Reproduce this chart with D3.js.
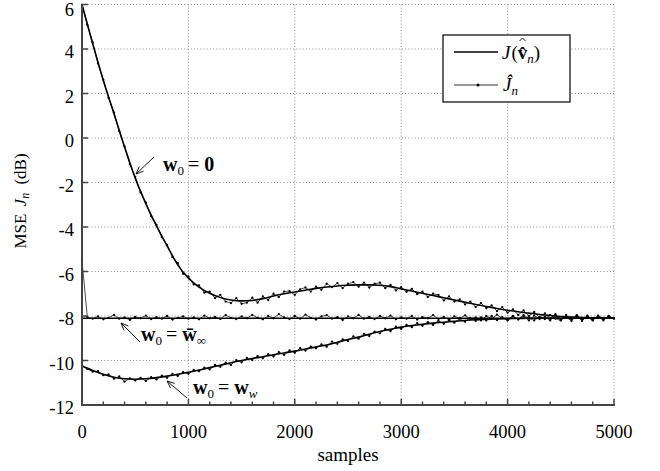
<!DOCTYPE html>
<html><head><meta charset="utf-8">
<script src="https://cdn.jsdelivr.net/npm/d3@7"></script>
<style>
html,body{margin:0;padding:0;background:#fff;}
svg{display:block;}
text{font-family:"Liberation Serif","Times New Roman",serif;fill:#000;}
</style></head>
<body><svg id="c" width="660" height="471"></svg>
<script>
// ---- data ----
const thSamples = [0,100,200,300,400,500,600,700,800,900,1000,1100,1200,1300,1400,1500,1600,1700,1800,1900,2000,2100,2200,2300,2400,2500,2600,2700,2800,2900,3000,3100,3200,3300,3400,3500,3600,3700,3800,3900,4000,4100,4200,4300,4400,4500,4600,4700,4800,4900,5000];
const theoryZero = [6.0,4.25,2.6,1.1,-0.4,-1.8,-2.95,-3.95,-4.85,-5.7,-6.3,-6.7,-6.98,-7.17,-7.28,-7.32,-7.3,-7.22,-7.1,-7.0,-6.92,-6.84,-6.76,-6.7,-6.65,-6.62,-6.6,-6.6,-6.62,-6.68,-6.78,-6.88,-6.98,-7.08,-7.18,-7.28,-7.38,-7.48,-7.57,-7.66,-7.74,-7.81,-7.87,-7.93,-7.98,-8.02,-8.05,-8.07,-8.08,-8.09,-8.1];
const theoryInf = [-8.1,-8.1,-8.1,-8.1,-8.1,-8.1,-8.1,-8.1,-8.1,-8.1,-8.1,-8.1,-8.1,-8.1,-8.1,-8.1,-8.1,-8.1,-8.1,-8.1,-8.1,-8.1,-8.1,-8.1,-8.1,-8.1,-8.1,-8.1,-8.1,-8.1,-8.1,-8.1,-8.1,-8.1,-8.1,-8.1,-8.1,-8.1,-8.1,-8.1,-8.1,-8.1,-8.1,-8.1,-8.1,-8.1,-8.1,-8.1,-8.1,-8.1,-8.1];
const theoryW = [-10.25,-10.45,-10.62,-10.75,-10.82,-10.84,-10.82,-10.77,-10.7,-10.62,-10.53,-10.43,-10.32,-10.21,-10.1,-10.0,-9.91,-9.83,-9.74,-9.66,-9.58,-9.48,-9.39,-9.3,-9.18,-9.06,-8.95,-8.82,-8.7,-8.6,-8.5,-8.43,-8.37,-8.32,-8.28,-8.24,-8.2,-8.17,-8.15,-8.13,-8.12,-8.11,-8.1,-8.1,-8.1,-8.1,-8.1,-8.1,-8.1,-8.1,-8.1];

const estSamples = [0,50,100,150,200,250,300,350,400,450,500,550,600,650,700,750,800,850,900,950,1000,1050,1100,1150,1200,1250,1300,1350,1400,1450,1500,1550,1600,1650,1700,1750,1800,1850,1900,1950,2000,2050,2100,2150,2200,2250,2300,2350,2400,2450,2500,2550,2600,2650,2700,2750,2800,2850,2900,2950,3000,3050,3100,3150,3200,3250,3300,3350,3400,3450,3500,3550,3600,3650,3700,3750,3800,3850,3900,3950,4000,4050,4100,4150,4200,4250,4300,4350,4400,4450,4500,4550,4600,4650,4700,4750,4800,4850,4900,4950,5000];
const estZero = [5.98,5.08,4.3,3.35,2.62,1.8,1.15,0.3,-0.38,-1.18,-1.75,-2.45,-2.9,-3.52,-3.9,-4.46,-4.8,-5.35,-5.62,-6.1,-6.22,-6.58,-6.62,-6.95,-6.9,-7.2,-7.05,-7.35,-7.42,-7.2,-7.45,-7.4,-7.18,-7.4,-7.12,-7.28,-7.0,-7.15,-6.9,-6.88,-7.05,-6.8,-6.72,-6.9,-6.68,-6.82,-6.55,-6.7,-6.52,-6.75,-6.55,-6.48,-6.68,-6.5,-6.72,-6.55,-6.5,-6.75,-6.6,-6.85,-6.7,-6.92,-6.78,-7.02,-6.9,-7.15,-7.0,-7.05,-7.3,-7.12,-7.35,-7.25,-7.48,-7.35,-7.6,-7.42,-7.65,-7.52,-7.78,-7.6,-7.85,-7.7,-7.95,-7.75,-8.0,-7.82,-8.08,-7.88,-8.12,-7.92,-8.18,-7.95,-8.15,-8.0,-8.22,-7.98,-8.16,-8.02,-8.2,-8.0,-8.12];
const estInf = [-5.5,-8.05,-8.12,-8.02,-8.15,-8.08,-7.95,-8.12,-8.06,-8.18,-8.04,-8.1,-7.98,-8.14,-8.05,-8.12,-8.0,-8.16,-8.08,-8.02,-8.12,-8.06,-8.15,-7.98,-8.1,-8.04,-8.13,-7.96,-8.08,-8.14,-8.02,-8.1,-7.95,-8.08,-8.15,-8.0,-8.1,-7.92,-8.06,-8.14,-8.0,-8.12,-7.94,-8.08,-8.16,-8.02,-7.96,-8.12,-8.05,-8.18,-8.02,-8.1,-7.95,-8.12,-8.04,-8.14,-8.0,-8.1,-7.98,-8.15,-8.06,-8.12,-8.0,-8.16,-8.05,-8.1,-7.96,-8.14,-8.04,-8.18,-8.02,-8.1,-7.97,-8.14,-8.06,-8.2,-8.0,-8.12,-7.94,-8.1,-8.18,-8.02,-8.14,-7.96,-8.1,-8.2,-8.04,-8.14,-7.95,-8.12,-8.2,-8.02,-8.14,-7.98,-8.16,-8.05,-8.18,-7.98,-8.12,-8.04,-8.1];
const estW = [-10.2,-10.38,-10.5,-10.48,-10.66,-10.62,-10.82,-10.72,-10.95,-10.8,-10.9,-10.78,-10.92,-10.75,-10.85,-10.68,-10.78,-10.6,-10.7,-10.52,-10.6,-10.42,-10.48,-10.32,-10.4,-10.2,-10.28,-10.1,-10.2,-9.98,-10.08,-9.88,-9.98,-9.8,-9.9,-9.72,-9.82,-9.62,-9.75,-9.55,-9.65,-9.45,-9.55,-9.38,-9.45,-9.28,-9.38,-9.15,-9.25,-9.05,-9.12,-8.92,-9.02,-8.8,-8.9,-8.7,-8.78,-8.58,-8.68,-8.48,-8.58,-8.4,-8.5,-8.32,-8.44,-8.28,-8.4,-8.22,-8.35,-8.18,-8.3,-8.12,-8.26,-8.08,-8.22,-8.06,-8.2,-8.0,-8.18,-8.05,-8.2,-8.0,-8.16,-8.02,-8.2,-7.98,-8.14,-8.04,-8.2,-7.98,-8.16,-8.05,-8.22,-7.96,-8.14,-8.02,-8.2,-8.0,-8.15,-8.03,-8.1];

const xTicks = [0,1000,2000,3000,4000,5000];
const xMinor = [200,400,600,800,1200,1400,1600,1800,2200,2400,2600,2800,3200,3400,3600,3800,4200,4400,4600,4800];
const yTicks = [-12,-10,-8,-6,-4,-2,0,2,4,6];

// ---- scales ----
const svg = d3.select("#c");
const x = d3.scaleLinear().domain([0,5000]).range([82,614]);
const y = d3.scaleLinear().domain([-12,6]).range([405,4.5]);

// grid
const grid = svg.append("g").attr("stroke","#8a8a8a").attr("stroke-width",1).attr("stroke-dasharray","1,2.2");
grid.selectAll("line.v").data(xTicks.slice(1)).join("line")
  .attr("x1",d=>x(d)).attr("x2",d=>x(d)).attr("y1",y(6)).attr("y2",y(-12));
grid.selectAll("line.h").data(yTicks.slice(1)).join("line")
  .attr("x1",x(0)).attr("x2",x(5000)).attr("y1",d=>y(d)).attr("y2",d=>y(d));

// curves
const lineEst = (arr)=>d3.line().x((d,i)=>x(estSamples[i])).y(d=>y(d))(arr);
const lineTh = (arr)=>d3.line().curve(d3.curveMonotoneX).x((d,i)=>x(thSamples[i])).y(d=>y(d))(arr);
const plot = svg.append("g");
[estZero,estInf,estW].forEach(arr=>{
  plot.append("path").attr("d",lineEst(arr)).attr("fill","none").attr("stroke","#000").attr("stroke-width",0.7);
  plot.append("g").selectAll("circle").data(arr).join("circle")
    .attr("cx",(d,i)=>x(estSamples[i])).attr("cy",d=>y(d)).attr("r",1.15).attr("fill","#000");
});
[theoryZero,theoryInf,theoryW].forEach(arr=>{
  plot.append("path").attr("d",lineTh(arr)).attr("fill","none").attr("stroke","#000").attr("stroke-width",1.6);
});

// axes (left + bottom)
const ax = svg.append("g").attr("stroke","#444");
ax.append("line").attr("x1",x(0)).attr("x2",x(0)).attr("y1",y(6)).attr("y2",y(-12)+1).attr("stroke-width",2);
ax.append("line").attr("x1",x(0)-1).attr("x2",x(5000)+1).attr("y1",y(-12)).attr("y2",y(-12)).attr("stroke-width",2);
ax.selectAll("line.xt").data(xTicks).join("line").attr("x1",d=>x(d)).attr("x2",d=>x(d)).attr("y1",y(-12)).attr("y2",y(-12)-6).attr("stroke-width",1.5);
ax.selectAll("line.xm").data(xMinor).join("line").attr("x1",d=>x(d)).attr("x2",d=>x(d)).attr("y1",y(-12)).attr("y2",y(-12)-3.5).attr("stroke-width",1.5);
ax.selectAll("line.yt").data(yTicks).join("line").attr("x1",x(0)).attr("x2",x(0)+6).attr("y1",d=>y(d)).attr("y2",d=>y(d)).attr("stroke-width",1.5);

// tick labels
svg.append("g").selectAll("text").data(yTicks).join("text")
  .attr("x",74).attr("y",d=>Math.max(y(d)+9,15.5)).attr("text-anchor","end").attr("font-size",18.5).text(d=>String(d));
svg.append("g").selectAll("text").data(xTicks).join("text")
  .attr("x",d=>x(d)).attr("y",438).attr("text-anchor","middle").attr("font-size",18.5).text(d=>String(d));

// axis titles
svg.append("text").attr("x",348).attr("y",461).attr("text-anchor","middle").attr("font-size",19).text("samples");
const yl = svg.append("text").attr("transform","translate(26,201) rotate(-90)").attr("text-anchor","middle").attr("font-size",17);
yl.append("tspan").text("MSE ");
yl.append("tspan").attr("font-style","italic").attr("dx",3).text("J");
yl.append("tspan").attr("font-style","italic").attr("font-size",12).attr("dy",3).text("n");
yl.append("tspan").attr("dy",-3).attr("dx",4).text(" (dB)");

// legend
const lg = svg.append("g");
lg.append("rect").attr("x",443).attr("y",35).attr("width",127).attr("height",67).attr("fill","#fff").attr("stroke","#000").attr("stroke-width",1.2);
lg.append("line").attr("x1",454).attr("x2",498).attr("y1",52).attr("y2",52).attr("stroke","#000").attr("stroke-width",1.6);
lg.append("line").attr("x1",454).attr("x2",498).attr("y1",85).attr("y2",85).attr("stroke","#000").attr("stroke-width",0.8);
lg.append("circle").attr("cx",478).attr("cy",85).attr("r",1.5).attr("fill","#000");
const t1 = lg.append("text").attr("x",502).attr("y",59).attr("font-size",19);
t1.append("tspan").attr("font-style","italic").text("J");
t1.append("tspan").attr("dx",1).text("(");
t1.append("tspan").attr("font-weight","bold").text("v\u0302");
t1.append("tspan").attr("font-style","italic").attr("font-size",13).attr("dy",4).text("n");
t1.append("tspan").attr("dy",-4).text(")");
// second hat above the v, drawn as a small caret path
try {
  const e = t1.node().getExtentOfChar(2);
  const cx = e.x + e.width/2;
  lg.append("path").attr("d",`M${cx-3},${41} L${cx},${38} L${cx+3},${41}`)
    .attr("fill","none").attr("stroke","#000").attr("stroke-width",0.9);
} catch(err) {}
const t2 = lg.append("text").attr("x",503).attr("y",91).attr("font-size",19);
t2.append("tspan").attr("font-style","italic").text("J\u0302");
t2.append("tspan").attr("font-style","italic").attr("font-size",13).attr("dy",4).text("n");

// annotations
function arrow(x1,y1,x2,y2){
  const g = svg.append("g").attr("stroke","#000").attr("stroke-width",0.9).attr("fill","none");
  g.append("line").attr("x1",x1).attr("y1",y1).attr("x2",x2).attr("y2",y2);
  const a = Math.atan2(y2-y1,x2-x1), L=8, s=0.4;
  g.append("path").attr("d",`M${x2-L*Math.cos(a-s)},${y2-L*Math.sin(a-s)} L${x2},${y2} L${x2-L*Math.cos(a+s)},${y2-L*Math.sin(a+s)}`);
}
function label(x0,y0,rhs,rhsSub,rhsSubItalic){
  const t = svg.append("text").attr("x",x0).attr("y",y0).attr("font-size",20);
  t.append("tspan").attr("font-weight","bold").text("w");
  t.append("tspan").attr("font-size",13).attr("dy",4).text("0");
  t.append("tspan").attr("dy",-4).attr("dx",4).text("=");
  t.append("tspan").attr("dx",5).attr("font-weight","bold").text(rhs);
  if(rhsSub){ t.append("tspan").attr("font-size",13).attr("dy",4).attr("font-style",rhsSubItalic?"italic":"normal").text(rhsSub); }
}
arrow(154,157,136,174);
label(163,171,"0");
arrow(140,342,121,323);
label(141,341,"w\u0304","\u221e",false);
arrow(187,398,167,381);
label(193,394,"w","w",true);
</script></body></html>
